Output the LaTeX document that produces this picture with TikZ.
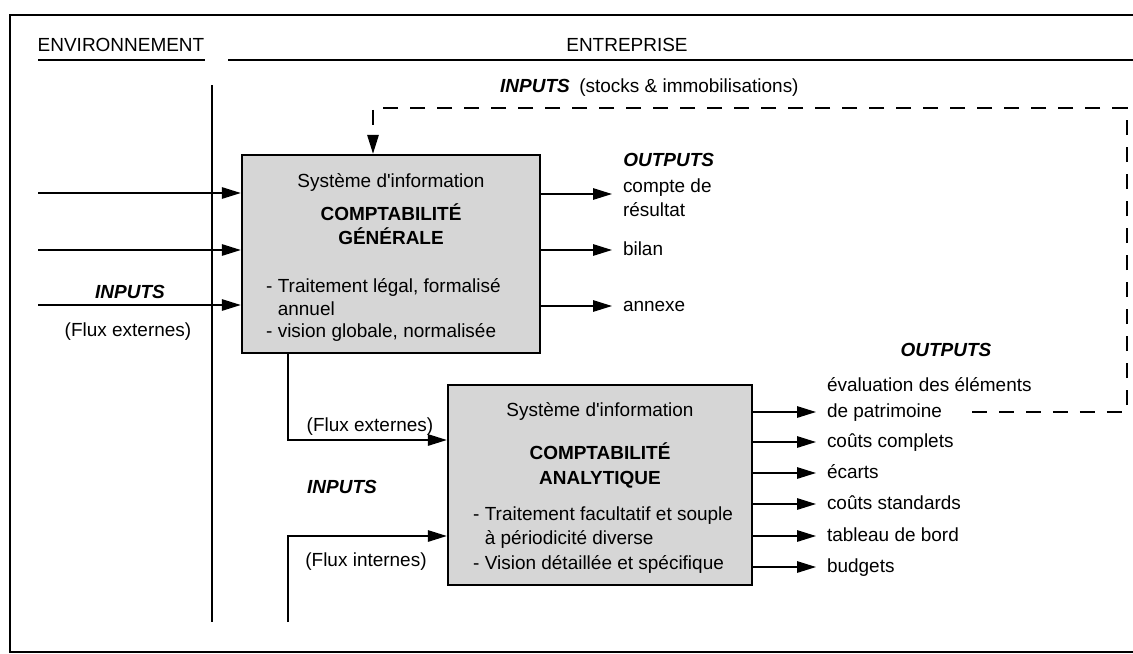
\documentclass[tikz,border=0pt]{standalone}
\usepackage{fontspec}
\setmainfont{Liberation Sans}
\usetikzlibrary{arrows.meta}

\begin{document}
\begin{tikzpicture}[x=0.02cm,y=-0.02cm,
    font=\fontsize{10.8}{13}\selectfont,
    sysbox/.style={draw,line width=1.4pt,fill=black!16,inner sep=0pt},
    flow/.style={line width=0.8pt,-{Triangle[length=3.8mm,width=2.3mm]}},
    retour/.style={flow,dash pattern=on 0.3cm off 0.24cm},
    lbl/.style={anchor=west,inner sep=0pt,outer xsep=0.22cm,text height=1.5ex,text depth=0.4ex},
    io/.style={font=\fontsize{10.8}{13}\selectfont\bfseries\itshape}]
    \useasboundingbox (0,0) rectangle (1133,653);
    \draw[line width=0.6pt] (1133,15) -- (10,15) -- (10,652) -- (1133,652);
    \node (env) at (121,45) {ENVIRONNEMENT};
    \node (ent) at (627,45) {ENTREPRISE};
    \draw[line width=0.6pt] (38,60) -- (205,60);
    \draw[line width=0.6pt] (228,60) -- (1133,60);
    \draw[line width=0.6pt] (212,85) -- (212,622);

    \node[sysbox,minimum width=5.96cm,minimum height=3.96cm] (cg) at (391,254) {};
    \node[sysbox,minimum width=6.08cm,minimum height=4cm] (ca) at (600,485) {};

    \node (cgsys) at (391,182) {Système d\textquotesingle information};
    \node[font=\fontsize{10.8}{13.6}\selectfont\bfseries,align=center] (cgtit) at (391,224) {COMPTABILITÉ\\GÉNÉRALE};
    \node[font=\fontsize{10.8}{12.8}\selectfont,align=left,anchor=west] (cgtxt) at (260,310) {- Traitement légal, formalisé\\\hphantom{-\ }annuel\\- vision globale, normalisée};

    \node (casys) at (600,411) {Système d\textquotesingle information};
    \node[font=\fontsize{10.8}{14.2}\selectfont\bfseries,align=center] (catit) at (600,465) {COMPTABILITÉ\\ANALYTIQUE};
    \node[font=\fontsize{10.8}{13.9}\selectfont,align=left,anchor=west] (catxt) at (467,540) {- Traitement facultatif et souple\\\hphantom{-\ }à périodicité diverse\\- Vision détaillée et spécifique};

    \node[io,anchor=west] (instk) at (494,88) {INPUTS\enspace{\normalfont(stocks \& immobilisations)}};
    \node[io] (incg) at (130,292) {INPUTS};
    \node (fxcg) at (128,332) {(Flux externes)};
    \node[io] (inca) at (342,487) {INPUTS};
    \node (fxlbl) at (370,427) {(Flux externes)};
    \node (filbl) at (366,562) {(Flux internes)};
    \node[io,anchor=west,inner sep=0pt] (outcg) at (623,160) {OUTPUTS};
    \node[io] (outca) at (946,350) {OUTPUTS};

    \foreach \y [count=\i] in {193,250,305}
    {
      \coordinate (ext\i) at (38,\y);
      \draw[flow] (ext\i) -- (ext\i -| cg.west);
    }

    \node[lbl] (cpt) at (612,187) {compte de};
    \node[lbl] (res) at (612,211) {résultat};
    \node[lbl] (bil) at (612,250) {bilan};
    \node[lbl] (anx) at (612,306) {annexe};
    \coordinate (cptin) at (612,194);
    \draw[flow] (cptin -| cg.east) -- (cptin);
    \draw[flow] (cg.east |- bil) -- (bil.west);
    \draw[flow] (cg.east |- anx) -- (anx.west);

    \coordinate (fx) at (288,440);
    \draw[flow] (fx |- cg.south) -- (fx) -- (fx -| ca.west);
    \coordinate (fibas) at (288,622);
    \coordinate (fi) at (288,536);
    \draw[flow] (fibas) -- (fi) -- (fi -| ca.west);

    \node[lbl] (eval) at (816,386) {évaluation des éléments};
    \foreach \y/\t [count=\i] in {412/de patrimoine,442/coûts complets,473/écarts,504/coûts standards,536/tableau de bord,567/budgets}
    {
      \node[lbl] (sor\i) at (816,\y) {\t};
      \draw[flow] (ca.east |- sor\i) -- (sor\i.west);
    }

    \coordinate (ret) at (972,412);
    \coordinate (coin) at (1127,108);
    \coordinate (stk) at (373,108);
    \draw[retour] (ret) -| (coin) -- (stk) -- (stk |- cg.north);
\end{tikzpicture}
\end{document}
